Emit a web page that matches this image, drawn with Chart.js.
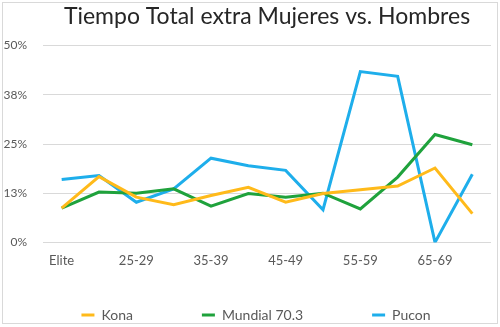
<!DOCTYPE html>
<html>
<head>
<meta charset="utf-8">
<script src="https://cdn.jsdelivr.net/npm/chart.js@4"></script>
<style>
  body { margin: 0; background: #fff; }
  #wrap { position: absolute; left: 2px; top: 2px; width: 494px; height: 320px; border: 1px solid #d9d9d9; }
</style>
</head>
<body>
<div id="wrap"><canvas id="myChart"></canvas></div>
<script>
const categories = ["Elite", "18-24", "25-29", "30-34", "35-39", "40-44", "45-49", "50-54", "55-59", "60-64", "65-69", "70-74"];
const kona = [8.7, 16.7, 11.5, 9.6, 11.9, 14.0, 10.2, 12.4, 13.4, 14.3, 18.9, 7.3];
const mundial = [8.7, 12.8, 12.5, 13.6, 9.2, 12.4, 11.5, 12.5, 8.5, 16.6, 27.4, 24.8];
const pucon = [16.0, 17.0, 10.2, 13.6, 21.4, 19.5, 18.3, 8.3, 43.4, 42.2, 0, 17.3];
const yTicks = [0, 12.5, 25, 37.5, 50];

const tickColor = "#595959";
const legendPad = 69;

// legend: wide gaps between items, but not that much room above them
const legendFix = {
    id: "legendFix",
    afterInit(chart) {
        const fit = chart.legend.fit;
        chart.legend.fit = function () {
            fit.call(this);
            this.height = 43;
        };
    },
    afterLayout(chart) {
        const lg = chart.legend;
        lg.top -= 41;
        lg.left += 9;
        lg.right += 9;
    },
};

function line(label, data, color) {
    return {
        label: label,
        data: data,
        borderColor: color,
        backgroundColor: color,
        borderWidth: 3,
        pointRadius: 0,
        tension: 0,
    };
}

new Chart(document.getElementById("myChart"), {
    type: "line",
    data: {
        labels: categories,
        datasets: [
            line("Kona", kona, "#FFBA1A"),
            line("Mundial 70.3", mundial, "#1FA23C"),
            line("Pucon", pucon, "#1EAEEB"),
        ],
    },
    plugins: [legendFix],
    options: {
        responsive: true,
        maintainAspectRatio: false,
        animation: false,
        layout: { padding: { left: 0, right: 6, top: 0, bottom: 0 } },
        scales: {
            x: {
                offset: true,
                grid: { display: false, drawTicks: false },
                border: { display: false },
                ticks: {
                    autoSkip: false,
                    maxRotation: 0,
                    padding: 11,
                    color: tickColor,
                    font: { family: "Lato", size: 13 },
                    callback: function (v, i) {
                        return i % 2 === 0 ? categories[i] : "";
                    },
                },
            },
            y: {
                min: 0,
                max: 50,
                afterBuildTicks: function (axis) {
                    axis.ticks = yTicks.map((v) => ({ value: v }));
                },
                afterFit: function (axis) {
                    axis.width = 40;
                },
                grid: { color: "#d9d9d9", drawTicks: false },
                border: { display: false },
                ticks: {
                    padding: 16,
                    color: tickColor,
                    font: { family: "Lato", size: 12 },
                    callback: (v) => Math.round(v) + "%",
                },
            },
        },
        plugins: {
            title: {
                display: true,
                fullSize: false,
                text: "Tiempo Total extra Mujeres vs. Hombres",
                color: "#262626",
                font: { family: "Lato", size: 23, weight: "normal" },
                padding: { top: 0, bottom: 15 },
            },
            legend: {
                position: "bottom",
                labels: {
                    usePointStyle: true,
                    pointStyle: "line",
                    pointStyleWidth: 13,
                    padding: legendPad,
                    color: tickColor,
                    font: { family: "Lato", size: 14 },
                },
            },
            tooltip: { enabled: false },
        },
    },
});
</script>
</body>
</html>
